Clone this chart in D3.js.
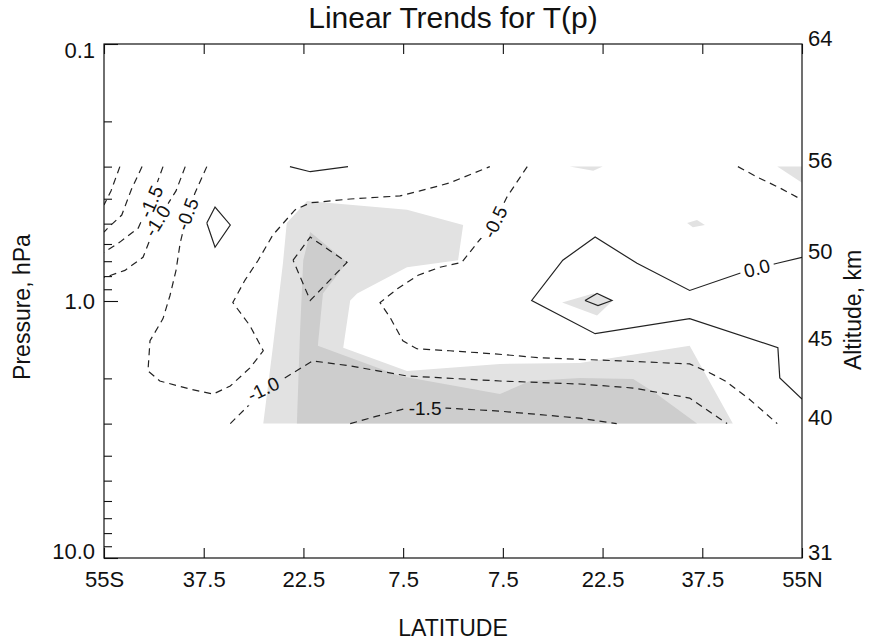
<!DOCTYPE html>
<head>
  <meta charset="utf-8">
  <script src="https://d3js.org/d3.v7.min.js"></script>
  <style>
    body { margin:0; background:#fff; }
    text { font-family: "Liberation Sans", Arial, Helvetica, sans-serif; fill:#111; }
  </style>
</head>

<body>
  <script>
    var width = 869;
    var height = 642;
    var x0 = 104, x1 = 802, y0 = 44, y1 = 558;

    // axes
    var latLabels = ["55S", "37.5", "22.5", "7.5", "7.5", "22.5", "37.5", "55N"];
    var latTicks = d3.range(8).map(function(i) { return -55 + i * 110 / 7; });
    var presMajor = [0.1, 1, 10];
    var presMajorLabels = ["0.1", "1.0", "10.0"];
    var presMinor = [0.2, 0.3, 0.4, 0.5, 0.6, 0.7, 0.8, 0.9, 2, 3, 4, 5, 6, 7, 8, 9];
    var altLabels = ["64", "56", "50", "45", "40", "31"];
    var altPres = [0.1, 0.3, 0.68, 1.47, 3.0, 10];

    // contour lines, points are [latitude, pressure hPa]
    var cM25a = [[-52.5,0.30],[-53.9,0.373],[-55,0.423]];
    var cM20a = [[-49.0,0.30],[-50.7,0.369],[-52.2,0.463],[-54.4,0.52],[-55,0.539]];
    var cM15a = [[-45.7,0.30],[-47.6,0.404],[-49.6,0.52],[-52.5,0.59],[-55,0.646]];
    var cM10a = [[-42.2,0.30],[-43.65,0.373],[-46.6,0.488],[-48.85,0.676],[-51.7,0.76],[-54.4,0.802],[-55,0.809]];
    var cM05a = [[-38.8,0.30],[-40.66,0.38],[-41.9,0.459],[-43.0,0.596],[-43.65,0.76],[-44.6,0.952],
                 [-45.7,1.171],[-47.75,1.428],[-48.07,1.871],[-46.2,2.048],[-41.45,2.201],[-37.8,2.302],
                 [-35.1,2.142],[-32.0,1.821],[-29.9,1.562],[-32.0,1.247],[-34.7,1.014],[-32.8,0.831],
                 [-30.7,0.694],[-28.4,0.554],[-24.9,0.442],[-22.5,0.415],[-16.2,0.401],[-8.35,0.39],
                 [-5.2,0.373],[-0.5,0.347],[5.8,0.30]];
    var cM10b = [[-35.1,3.0],[-32.0,2.518],[-29.9,2.201],[-27.3,2.048],[-22.1,1.71],[-16.2,1.789],
                 [-7.25,1.957],[7.4,2.048],[20.0,2.104],[28.4,2.181],[37.3,2.386],[43.2,3.0]];
    var cM15b = [[-16.2,3.0],[-12.0,2.806],[-7.25,2.611],[-0.95,2.611],[7.4,2.683],[20.0,2.857],[25.8,3.0]];
    var cM05b = [[11.7,0.30],[8.5,0.394],[6.6,0.493],[3.9,0.59],[1.4,0.707],[-2.05,0.739],[-5.5,0.794],
                 [-8.7,0.894],[-11.5,1.014],[-9.9,1.161],[-7.9,1.428],[-5.7,1.534],[-0.5,1.562],[6.6,1.606],
                 [13.7,1.663],[26.3,1.71],[37.3,1.757],[40.5,1.905],[42.9,2.048],[46.5,2.386],[51.1,3.0]];
    var cM05c = [[44.9,0.30],[47.9,0.329],[51.5,0.363],[55,0.404]];
    var cM15c = [[-25.2,0.694],[-22.5,0.564],[-16.7,0.707],[-22.5,0.995],[-25.2,0.694]];
    var cZeroA = [[-25.7,0.30],[-22.5,0.314],[-16.55,0.30]];
    var cZeroB = [[55,0.676],[51.1,0.713],[47.9,0.746],[45.2,0.78],[37.3,0.91],[29.0,0.713],[22.4,0.564],
                  [17.3,0.694],[12.4,0.995],[22.4,1.34],[37.3,1.171],[51.2,1.52],[51.5,1.993],[55,2.408]];
    var cZeroC = [[20.8,0.995],[22.7,0.935],[25.05,0.995],[22.85,1.041],[20.8,0.995]];
    var cZeroD = [[-38.8,0.497],[-37.5,0.431],[-35.1,0.506],[-37.5,0.618],[-38.8,0.497]];

    var contours = [
      { level: -2.5, pts: cM25a }, { level: -2.0, pts: cM20a },
      { level: -1.5, pts: cM15a }, { level: -1.0, pts: cM10a },
      { level: -0.5, pts: cM05a }, { level: -1.0, pts: cM10b },
      { level: -1.5, pts: cM15b }, { level: -0.5, pts: cM05b },
      { level: -0.5, pts: cM05c }, { level: -1.5, pts: cM15c },
      { level: 0.0, pts: cZeroA }, { level: 0.0, pts: cZeroB },
      { level: 0.0, pts: cZeroC }, { level: 0.0, pts: cZeroD }
    ];

    var contourLabels = [
      { level: -1.5, lat: -47.6, p: 0.41 },
      { level: -1.0, lat: -46.6, p: 0.488 },
      { level: -0.5, lat: -41.9, p: 0.459 },
      { level: -0.5, lat: 6.6, p: 0.493 },
      { level: 0.0, lat: 47.9, p: 0.746 },
      { level: -1.0, lat: -29.9, p: 2.20 },
      { level: -1.5, lat: -4.4, p: 2.611 }
    ];

    // shaded areas (two grey levels)
    var shadeLight = [
      [[-29.9,3.0],[-28.4,1.52],[-26.8,0.713],[-26.2,0.497],[-23.0,0.408],[-7.25,0.442],[1.6,0.506],
       [0.8,0.694],[-7.25,0.739],[-15.1,0.935],[-16.2,0.995],[-17.3,1.52],[-7.25,1.871],[7.4,1.757],
       [20.0,1.741],[37.3,1.494],[44.1,3.0]],
      [[18.4,0.30],[23.6,0.30],[22.1,0.311]],
      [[36.9,0.497],[38.45,0.484],[39.7,0.506],[37.8,0.516]],
      [[51.1,0.30],[55,0.30],[55,0.347]],
      [[17.2,1.014],[22.1,0.935],[25.2,0.995],[22.7,1.139]]
    ];
    var shadeDark = [
      [[-24.6,3.0],[-24.1,1.305],[-23.6,0.694],[-22.5,0.539],[-16.7,0.707],[-20.5,0.935],[-21.3,1.493],
       [-8.35,1.957],[7.4,2.302],[12.1,2.048],[20.0,1.993],[28.4,2.011],[32.1,2.302],[38.45,3.0]]
    ];

    var x = d3.scaleLinear().domain([-55, 55]).range([x0, x1]);
    var y = d3.scaleLog().domain([0.1, 10]).range([y0, y1]);

    var svg = d3.select("body").append("svg")
      .attr("width", width)
      .attr("height", height);

    var line = d3.line()
      .x(function(d) { return x(d[0]); })
      .y(function(d) { return y(d[1]); });
    var area = d3.line()
      .x(function(d) { return x(d[0]); })
      .y(function(d) { return y(d[1]); })
      .curve(d3.curveLinearClosed);

    var defs = svg.append("defs");
    defs.append("clipPath").attr("id", "plotclip")
      .append("rect").attr("x", x0).attr("y", y0)
      .attr("width", x1 - x0).attr("height", y1 - y0);
    var mask = defs.append("mask").attr("id", "lblmask")
      .attr("maskUnits", "userSpaceOnUse")
      .attr("x", 0).attr("y", 0).attr("width", width).attr("height", height);
    mask.append("rect").attr("width", width).attr("height", height).attr("fill", "#fff");

    var plot = svg.append("g").attr("clip-path", "url(#plotclip)");

    plot.selectAll(".light").data(shadeLight).enter().append("path")
      .attr("d", area).attr("fill", "#e2e2e2");
    plot.selectAll(".dark").data(shadeDark).enter().append("path")
      .attr("d", area).attr("fill", "#cdcdcd");

    plot.append("g").attr("mask", "url(#lblmask)")
      .selectAll("path").data(contours).enter().append("path")
      .attr("d", function(d) { return line(d.pts); })
      .attr("fill", "none")
      .attr("stroke", "#222")
      .attr("stroke-width", 1.2)
      .attr("stroke-dasharray", function(d) { return d.level < 0 ? "7,5" : null; });

    // angle of the contour near a label
    function labelAngle(lb) {
      var px = x(lb.lat), py = y(lb.p), bd = Infinity, best = [1, 0];
      contours.forEach(function(c) {
        if (c.level !== lb.level) return;
        for (var i = 0; i < c.pts.length - 1; i++) {
          var ax = x(c.pts[i][0]), ay = y(c.pts[i][1]);
          var dx = x(c.pts[i + 1][0]) - ax, dy = y(c.pts[i + 1][1]) - ay;
          var t = ((px - ax) * dx + (py - ay) * dy) / (dx * dx + dy * dy);
          t = Math.max(0, Math.min(1, t));
          var dd = Math.hypot(ax + t * dx - px, ay + t * dy - py);
          if (dd < bd) { bd = dd; best = [dx, dy]; }
        }
      });
      var a = Math.atan2(best[1], best[0]) * 180 / Math.PI;
      if (a > 90) a -= 180;
      if (a < -90) a += 180;
      return a;
    }

    contourLabels.forEach(function(lb) {
      var a = labelAngle(lb);
      var tr = "translate(" + x(lb.lat) + "," + y(lb.p) + ") rotate(" + a + ")";
      var t = svg.append("text")
        .attr("transform", tr)
        .attr("text-anchor", "middle")
        .attr("dy", "0.35em")
        .style("font-size", "19px")
        .text(lb.level.toFixed(1));
      var w = t.node().getComputedTextLength() + 8;
      mask.append("rect")
        .attr("transform", tr)
        .attr("x", -w / 2).attr("y", -9)
        .attr("width", w).attr("height", 18)
        .attr("fill", "#000");
    });

    // axes
    function styleAxis(g) {
      g.select(".domain").remove();
      g.selectAll("line").attr("stroke", "#111").attr("stroke-width", 1.1);
      g.selectAll("text").attr("fill", "#111").style("font-size", "22px");
      g.attr("font-family", null).attr("font-size", null);
    }

    svg.append("g").attr("transform", "translate(0," + y1 + ")")
      .call(d3.axisBottom(x).tickValues(latTicks)
        .tickFormat(function(d, i) { return latLabels[i]; })
        .tickSizeInner(-10).tickSizeOuter(0).tickPadding(13))
      .call(styleAxis);

    svg.append("g").attr("transform", "translate(0," + y0 + ")")
      .call(d3.axisTop(x).tickValues(latTicks).tickFormat("")
        .tickSizeInner(-10).tickSizeOuter(0))
      .call(styleAxis);

    var leftAx = svg.append("g").attr("transform", "translate(" + x0 + ",0)")
      .call(d3.axisLeft(y).tickValues(presMajor)
        .tickFormat(function(d, i) { return presMajorLabels[i]; })
        .tickSizeInner(-14).tickSizeOuter(0).tickPadding(9))
      .call(styleAxis);
    leftAx.selectAll("text").attr("dy", function(d) {
      var yy = y(d), c = Math.max(y0 + 6, Math.min(y1 - 7, yy));
      return (c - yy + 7) + "px";
    });

    svg.append("g").attr("transform", "translate(" + x0 + ",0)")
      .call(d3.axisLeft(y).tickValues(presMinor).tickFormat("")
        .tickSizeInner(-8).tickSizeOuter(0))
      .call(styleAxis);

    svg.append("g").attr("transform", "translate(" + x1 + ",0)")
      .call(d3.axisRight(y).tickValues(altPres)
        .tickFormat(function(d, i) { return altLabels[i]; })
        .tickSize(0).tickPadding(6))
      .call(styleAxis)
      .selectAll("text").attr("dy", "1px");

    svg.append("rect")
      .attr("x", x0).attr("y", y0)
      .attr("width", x1 - x0).attr("height", y1 - y0)
      .attr("fill", "none").attr("stroke", "#111").attr("stroke-width", 1.2);

    svg.append("text")
      .attr("x", (x0 + x1) / 2).attr("y", 28)
      .attr("text-anchor", "middle")
      .style("font-size", "30px")
      .text("Linear Trends for T(p)");

    svg.append("text")
      .attr("x", (x0 + x1) / 2).attr("y", 636)
      .attr("text-anchor", "middle")
      .style("font-size", "23px")
      .text("LATITUDE");

    svg.append("text")
      .attr("transform", "translate(30," + ((y0 + y1) / 2 + 6) + ") rotate(-90)")
      .attr("text-anchor", "middle")
      .style("font-size", "23px")
      .text("Pressure, hPa");

    svg.append("text")
      .attr("transform", "translate(861," + ((y0 + y1) / 2 + 9) + ") rotate(-90)")
      .attr("text-anchor", "middle")
      .style("font-size", "23px")
      .text("Altitude, km");
  </script>
</body>
